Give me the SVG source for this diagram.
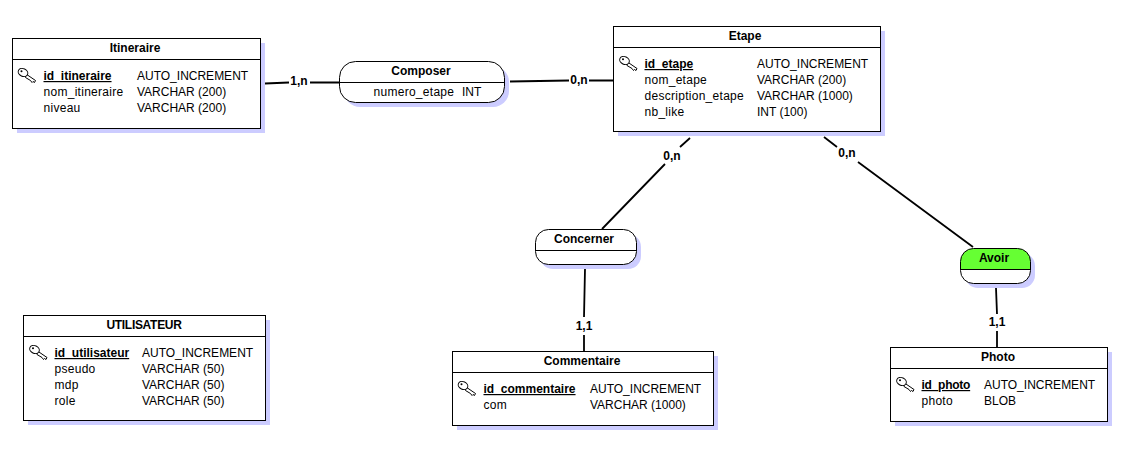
<svg xmlns="http://www.w3.org/2000/svg" xmlns:xlink="http://www.w3.org/1999/xlink" width="1123" height="466" viewBox="0 0 1123 466">
<style>
text{font-family:"Liberation Sans",Arial,sans-serif;font-size:12px;fill:#000}
.t{font-weight:bold;text-anchor:middle}
.k{font-weight:bold;text-decoration:underline}
.c{font-weight:bold;text-anchor:middle;font-size:12px}
.n{letter-spacing:.28px}
.s{fill:#ccccff;stroke:none}
.b{fill:#fff;stroke:#000;stroke-width:1}
.d{stroke:#000;stroke-width:1;fill:none}
.l{stroke:#000;stroke-width:1.8;fill:none}
.kb{fill:#fff;stroke:#000;stroke-width:1}
</style>
<defs>
<g id="key">
<path class="kb" d="M8.500 6 L18 12.500 L17 14.500 L15.500 13.500 L14.500 14.500 L13 12.500 L8 9.500Z"/>
<ellipse class="kb" cx="5.500" cy="4.500" rx="5" ry="3.800" transform="rotate(25 5.500 4.500)"/>
<circle cx="4" cy="3.200" r="1" fill="#000"/>
</g>
</defs>
<rect width="1123" height="466" fill="#fff"/>
<g id="connectors">
<path class="l" d="M265 83.500L289 82.500M310 82.500L340 82.500"/>
<path class="l" d="M510 81.500L569 80.500M589 80.500L613 80.500"/>
<path class="l" d="M690 138L680 147M665 164L602 229"/>
<path class="l" d="M824 137L837 147M858 162L973 247"/>
<path class="l" d="M585 269L584 317M584 335L584 351"/>
<path class="l" d="M996 288L997 314M997 331L997 347"/>
<text class="c" x="299" y="85">1,n</text>
<text class="c" x="579" y="84">0,n</text>
<text class="c" x="672" y="160">0,n</text>
<text class="c" x="847" y="157">0,n</text>
<text class="c" x="584" y="330">1,1</text>
<text class="c" x="997" y="326">1,1</text>
</g>
<g id="itineraire">
<rect class="s" x="17" y="43" width="248" height="90"/>
<rect class="b" x="12.500" y="38.500" width="248" height="90"/>
<path class="d" d="M12.500 59.500H260.500"/>
<text class="t" x="135" y="52">Itineraire</text>
<use xlink:href="#key" href="#key" x="17.500" y="68"/>
<text class="k" x="43.500" y="80">id_itineraire</text>
<text class="n" x="43.500" y="96">nom_itineraire</text>
<text class="n" x="43.500" y="112">niveau</text>
<text x="137" y="80">AUTO_INCREMENT</text>
<text x="137" y="96">VARCHAR (200)</text>
<text x="137" y="112">VARCHAR (200)</text>
</g>
<g id="composer">
<rect class="s" x="344" y="66" width="165" height="41" rx="16"/>
<rect class="b" x="339.500" y="61.500" width="165" height="41" rx="16"/>
<path class="d" d="M339.500 82.500H504.500"/>
<text class="t" x="421" y="75">Composer</text>
<text class="n" x="373.500" y="96">numero_etape</text>
<text x="462" y="96">INT</text>
</g>
<g id="etape">
<rect class="s" x="618" y="31" width="267" height="105"/>
<rect class="b" x="613.500" y="26.500" width="267" height="105"/>
<path class="d" d="M613.500 47.500H880.500"/>
<text class="t" x="745" y="40">Etape</text>
<use xlink:href="#key" href="#key" x="619" y="56"/>
<text class="k" x="644.500" y="68">id_etape</text>
<text class="n" x="644.500" y="84">nom_etape</text>
<text class="n" x="644.500" y="100">description_etape</text>
<text class="n" x="644.500" y="116">nb_like</text>
<text x="757" y="68">AUTO_INCREMENT</text>
<text x="757" y="84">VARCHAR (200)</text>
<text x="757" y="100">VARCHAR (1000)</text>
<text x="757" y="116">INT (100)</text>
</g>
<g id="concerner">
<rect class="s" x="540" y="234" width="101" height="35" rx="13"/>
<rect class="b" x="535.500" y="229.500" width="101" height="35" rx="13"/>
<path class="d" d="M535.500 250.500H636.500"/>
<text class="t" x="584" y="243">Concerner</text>
</g>
<g id="avoir">
<rect class="s" x="965" y="253" width="70" height="35" rx="13"/>
<rect x="960.500" y="248.500" width="70" height="35" rx="13" fill="#fff"/>
<path d="M960.500 269.500V261.500A13 13 0 0 1 973.500 248.500H1017.500A13 13 0 0 1 1030.500 261.500V269.500Z" fill="#66ff33"/>
<rect x="960.500" y="248.500" width="70" height="35" rx="13" fill="none" stroke="#000"/>
<path class="d" d="M960.500 269.500H1030.500"/>
<text class="t" x="994" y="262">Avoir</text>
</g>
<g id="utilisateur">
<rect class="s" x="28" y="320" width="242" height="105"/>
<rect class="b" x="23.500" y="315.500" width="242" height="105"/>
<path class="d" d="M23.500 336.500H265.500"/>
<text class="t" x="144" y="329" letter-spacing="-.3">UTILISATEUR</text>
<use xlink:href="#key" href="#key" x="29" y="345"/>
<text class="k" x="54.500" y="357">id_utilisateur</text>
<text class="n" x="54.500" y="373">pseudo</text>
<text class="n" x="54.500" y="389">mdp</text>
<text class="n" x="54.500" y="405">role</text>
<text x="142" y="357">AUTO_INCREMENT</text>
<text x="142" y="373">VARCHAR (50)</text>
<text x="142" y="389">VARCHAR (50)</text>
<text x="142" y="405">VARCHAR (50)</text>
</g>
<g id="commentaire">
<rect class="s" x="457" y="356" width="261" height="74"/>
<rect class="b" x="452.500" y="351.500" width="261" height="74"/>
<path class="d" d="M452.500 372.500H713.500"/>
<text class="t" x="582" y="365">Commentaire</text>
<use xlink:href="#key" href="#key" x="457.500" y="381"/>
<text class="k" x="483.500" y="393">id_commentaire</text>
<text class="n" x="483.500" y="409">com</text>
<text x="590" y="393">AUTO_INCREMENT</text>
<text x="590" y="409">VARCHAR (1000)</text>
</g>
<g id="photo">
<rect class="s" x="895" y="352" width="217" height="74"/>
<rect class="b" x="890.500" y="347.500" width="217" height="74"/>
<path class="d" d="M890.500 368.500H1107.500"/>
<text class="t" x="998" y="361">Photo</text>
<use xlink:href="#key" href="#key" x="896" y="377"/>
<text class="k" x="921.500" y="389" letter-spacing="-.25">id_photo</text>
<text class="n" x="921.500" y="405">photo</text>
<text x="984" y="389">AUTO_INCREMENT</text>
<text x="984" y="405">BLOB</text>
</g>
</svg>
